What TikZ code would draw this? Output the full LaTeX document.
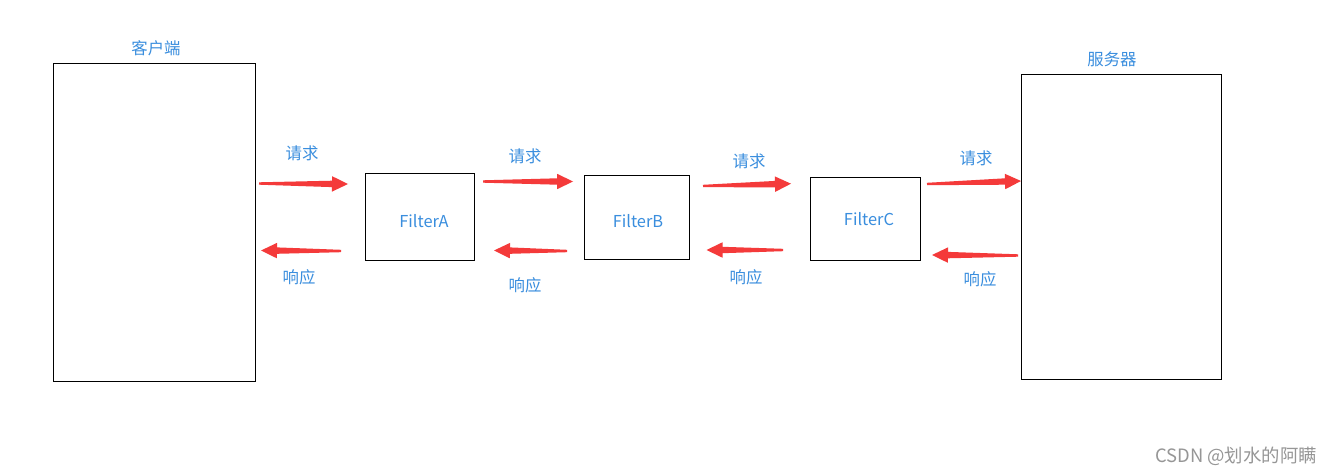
\documentclass[tikz,border=0pt]{standalone}
\usepackage{fontspec}
\newfontfamily\cjk{Noto Sans CJK SC}
\usetikzlibrary{calc}
\definecolor{txtblue}{RGB}{58,142,222}
\definecolor{arrred}{RGB}{244,58,58}
\definecolor{wmgray}{RGB}{150,150,150}
\newcommand{\redarrow}[2]{%
  \fill[arrred]
    ($(#1)!0.9pt!90:(#2)$) --
    ($($(#2)!12pt!(#1)$)!2.4pt!90:(#2)$) --
    ($($(#2)!12pt!(#1)$)!5.8pt!90:(#2)$) --
    (#2) --
    ($($(#2)!12pt!(#1)$)!5.8pt!-90:(#2)$) --
    ($($(#2)!12pt!(#1)$)!2.4pt!-90:(#2)$) --
    ($(#1)!0.9pt!-90:(#2)$) -- cycle;}
\tikzset{
  box/.style={draw=black, line width=0.65pt},
  lbl/.style={text=txtblue, font=\cjk\fontsize{12.3pt}{14pt}\selectfont, inner sep=0pt},
  flbl/.style={text=txtblue, font=\cjk\fontsize{12.3pt}{14pt}\selectfont, inner sep=0pt},
}
\begin{document}
\begin{tikzpicture}[x=0.75pt,y=-0.75pt]
\useasboundingbox[fill=white] (0,0) rectangle (1337,474);
% boxes
\draw[box] (53,63) rectangle (255,381);
\draw[box] (365,173) rectangle (474,260);
\draw[box] (584,175) rectangle (689,259);
\draw[box] (810,177) rectangle (920,260);
\draw[box] (1021,74) rectangle (1221,379);
% titles
\node[lbl] (tclient) at (156,48) {客户端};
\node[lbl] (tserver) at (1112,59) {服务器};
\node[flbl] (fa) at (424,221) {FilterA};
\node[flbl] (fb) at (638,221) {FilterB};
\node[flbl] (fc) at (869,219) {FilterC};
% request labels
\node[lbl] (q1) at (302,153) {请求};
\node[lbl] (q2) at (525,156) {请求};
\node[lbl] (q3) at (749,161) {请求};
\node[lbl] (q4) at (976,158) {请求};
% response labels
\node[lbl] (r1) at (299,277) {响应};
\node[lbl] (r2) at (525,285) {响应};
\node[lbl] (r3) at (746,277) {响应};
\node[lbl] (r4) at (980,279) {响应};
% arrow ends
\coordinate (qa1) at (259,183.5); \coordinate (qb1) at (348,184);
\coordinate (qa2) at (483,181.5); \coordinate (qb2) at (573,181.5);
\coordinate (qa3) at (703,186); \coordinate (qb3) at (791,183.7);
\coordinate (qa4) at (927,184); \coordinate (qb4) at (1021,181);
\coordinate (ra1) at (341,251); \coordinate (rb1) at (261,250.5);
\coordinate (ra2) at (567,251); \coordinate (rb2) at (494,250.5);
\coordinate (ra3) at (783,250); \coordinate (rb3) at (706.5,250);
\coordinate (ra4) at (1018,255.5); \coordinate (rb4) at (932,255);
\redarrow{qa1}{qb1}
\redarrow{qa2}{qb2}
\redarrow{qa3}{qb3}
\redarrow{qa4}{qb4}
\redarrow{ra1}{rb1}
\redarrow{ra2}{rb2}
\redarrow{ra3}{rb3}
\redarrow{ra4}{rb4}
% watermark
\node[text=wmgray, font=\cjk\fontsize{13.8pt}{15pt}\selectfont, inner sep=0pt] (wm) at (1236,456) {CSDN @划水的阿瞒};
\end{tikzpicture}
\end{document}
